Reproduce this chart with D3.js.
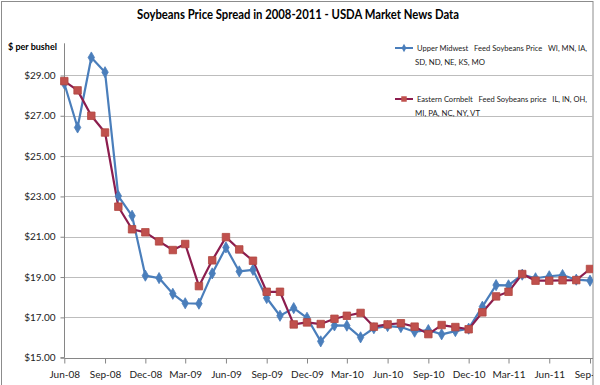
<!DOCTYPE html>
<html>
<head>
<meta charset="utf-8">
<script src="https://cdn.jsdelivr.net/npm/d3@7"></script>
<style>
  body { margin: 0; background: #fff; }
  svg { display: block; font-family: Lato, "Open Sans", sans-serif; }
  text { white-space: pre; }
</style>
</head>
<body>
<div id="chart"></div>
<script>
// monthly observations, Jun-08 .. Sep-11
let months = d3.timeMonth.range(new Date(2008, 5, 1), new Date(2011, 9, 1));

let upperMidwest = [
    28.6, 26.42, 29.89, 29.16, 23.02, 22.04, 19.07, 18.95, 18.17, 17.70,
    17.68, 19.18, 20.47, 19.28, 19.36, 17.96, 17.08, 17.46, 16.98, 15.81,
    16.60, 16.59, 16.01, 16.46, 16.57, 16.52, 16.29, 16.37, 16.16, 16.32,
    16.44, 17.53, 18.60, 18.59, 19.12, 18.94, 19.04, 19.10, 18.87, 18.82
];
let easternCornbelt = [
    28.72, 28.26, 27.00, 26.17, 22.49, 21.37, 21.22, 20.77, 20.34, 20.64,
    18.55, 19.83, 20.98, 20.37, 19.81, 18.27, 18.27, 16.65, 16.75, 16.67,
    16.93, 17.08, 17.22, 16.54, 16.65, 16.71, 16.54, 16.17, 16.62, 16.52,
    16.41, 17.25, 18.04, 18.27, 19.15, 18.82, 18.82, 18.84, 18.85, 19.40
];

let yTicks = [15, 17, 19, 21, 23, 25, 27, 29];
// quarterly labels starting Jun-08
let xTicks = months.filter((d, i) => i % 3 === 0);

let series = [
    { name: "Upper Midwest   Feed Soybeans Price   WI, MN, IA,", name2: "SD, ND, NE, KS, MO",
      values: upperMidwest, line: "#4A7EBB", fill: "#4A7EBB", shape: d3.symbolDiamond },
    { name: "Eastern Cornbelt   Feed Soybeans price   IL, IN, OH,", name2: "MI, PA, NC, NY, VT",
      values: easternCornbelt, line: "#8C1D4E", fill: "#C0504D", shape: d3.symbolSquare }
];

let width = 600;
let height = 385;
let margin = ({ top: 55.3, right: 590, bottom: 357.7, left: 64.3 });

let x = d3.scaleTime()
    .domain([months[0], months[months.length - 1]])
    .range([margin.left, margin.right]);

let y = d3.scaleLinear()
    .domain([15, 30])
    .range([margin.bottom, margin.top]);

let svg = d3.select("#chart")
    .append("svg")
    .attr("width", width)
    .attr("height", height);

svg.append("defs").append("clipPath")
    .attr("id", "clip")
    .append("rect")
    .attr("x", 0).attr("y", -500)
    .attr("width", 593).attr("height", 1500);

// chart border
svg.append("rect")
    .attr("x", 1.5).attr("y", 1.5)
    .attr("width", 591.5).attr("height", height + 10)
    .attr("fill", "none")
    .attr("stroke", "#8c8c8c");

svg.append("text")
    .attr("x", 298)
    .attr("y", 19)
    .attr("text-anchor", "middle")
    .attr("font-size", 12.5)
    .attr("font-weight", "bold")
    .attr("textLength", 322)
    .attr("lengthAdjust", "spacingAndGlyphs")
    .text("Soybeans Price Spread in 2008-2011 - USDA Market News Data");

svg.append("text")
    .attr("x", 8)
    .attr("y", 50)
    .attr("font-size", 9)
    .attr("font-weight", "bold")
    .text("$ per bushel");

// gridlines
svg.append("g")
    .selectAll("line")
    .data(yTicks.slice(1))
    .join("line")
    .attr("x1", margin.left)
    .attr("x2", 593)
    .attr("y1", d => Math.round(y(d)) + 0.5)
    .attr("y2", d => Math.round(y(d)) + 0.5)
    .attr("stroke", "#bdbdbd");

// y axis
svg.append("g")
    .attr("transform", `translate(${Math.round(margin.left) + 0.5},0)`)
    .call(d3.axisLeft(y).tickValues(yTicks).tickFormat(d3.format("$.2f")).tickSize(4).tickPadding(5))
    .call(g => g.select(".domain").attr("stroke", "#868686").attr("d", `M-4,${y(15)}H0V${y(30) - 12}`))
    .call(g => g.selectAll(".tick line").attr("stroke", "#868686"))
    .call(g => g.selectAll(".tick text").attr("font-size", 10).attr("font-family", "Lato, sans-serif").attr("fill", "#222"));

// x axis (last label is cut by the chart edge, as in the source)
svg.append("g")
    .attr("clip-path", "url(#clip)")
    .attr("transform", `translate(0,${Math.round(margin.bottom) + 0.5})`)
    .call(d3.axisBottom(x).tickValues(xTicks).tickFormat(d3.timeFormat("%b-%y")).tickSize(5).tickPadding(7))
    .call(g => g.select(".domain").attr("stroke", "#868686").attr("d", `M${margin.left},0H593`))
    .call(g => g.selectAll(".tick line").attr("stroke", "#868686"))
    .call(g => g.selectAll(".tick text").attr("font-size", 10).attr("font-family", "Lato, sans-serif").attr("fill", "#222"));

let plot = svg.append("g").attr("clip-path", "url(#clip)");

let line = d3.line()
    .x((d, i) => x(months[i]))
    .y(d => y(d));

series.forEach(s => {
    plot.append("path")
        .datum(s.values)
        .attr("fill", "none")
        .attr("stroke", s.line)
        .attr("stroke-width", 2.2)
        .attr("stroke-linejoin", "round")
        .attr("d", line);
});

series.forEach(s => {
    plot.append("g")
        .selectAll("path")
        .data(s.values)
        .join("path")
        .attr("transform", (d, i) => `translate(${x(months[i])},${y(d)})`)
        .attr("d", d3.symbol(s.shape, s.shape === d3.symbolSquare ? 56 : 36))
        .attr("fill", s.fill)
        .attr("stroke", s.shape === d3.symbolSquare ? "#b0463f" : s.line)
        .attr("stroke-width", 0.8);
});

// legend
let legend = svg.append("g")
    .attr("font-size", 7.8)
    .attr("fill", "#222")
    .selectAll("g")
    .data(series)
    .join("g")
    .attr("transform", (d, i) => `translate(395,${48 + i * 51})`);

legend.append("line")
    .attr("x1", 0).attr("x2", 18)
    .attr("stroke", d => d.line)
    .attr("stroke-width", 2);

legend.append("path")
    .attr("transform", "translate(9,0)")
    .attr("d", d => d3.symbol(d.shape, d.shape === d3.symbolSquare ? 30 : 20)())
    .attr("fill", d => d.fill);

legend.append("text")
    .attr("x", 22)
    .attr("dy", "0.35em")
    .attr("textLength", 170)
    .attr("lengthAdjust", "spacingAndGlyphs")
    .text(d => d.name);

legend.append("text")
    .attr("x", 20)
    .attr("y", 14)
    .attr("dy", "0.35em")
    .text(d => d.name2);
</script>
</body>
</html>
